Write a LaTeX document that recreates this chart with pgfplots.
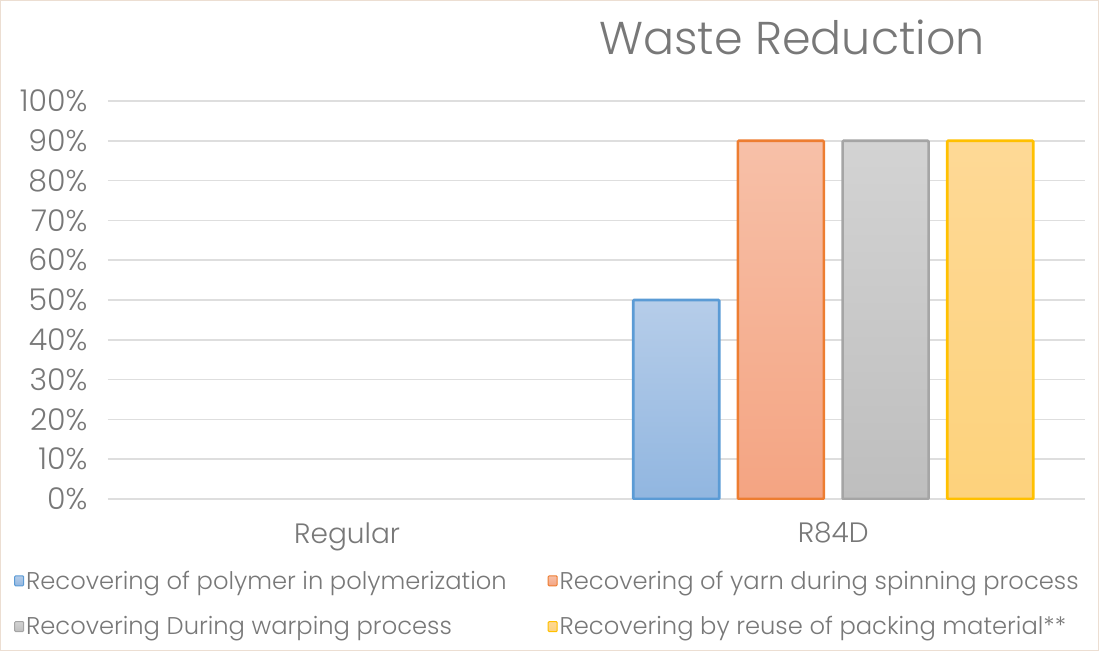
\documentclass[border=0pt]{standalone}
\usepackage{pgfplots}
\pgfplotsset{compat=1.18}
\usepackage{fontspec}
\setmainfont{Poppins}[UprightFont={* Light}]

\definecolor{txt}{RGB}{120,120,120}
\definecolor{gridc}{RGB}{222,222,222}
\definecolor{frame}{RGB}{236,222,210}
\definecolor{bluE}{RGB}{91,155,213}
\definecolor{oraN}{RGB}{237,125,49}
\definecolor{grY}{RGB}{165,165,165}
\definecolor{yelL}{RGB}{255,192,0}

\begin{document}
\begin{tikzpicture}[x=1pt,y=1pt]
  \path (0,0) rectangle (1099,651);
  \draw[frame, line width=1.2pt] (0.6,0.6) rectangle (1098.4,650.4);
  \node[txt, font=\fontsize{46}{52}\selectfont] at (792,614) {Waste Reduction};

  \begin{axis}[
      at={(108pt,152pt)}, anchor=south west,
      scale only axis,
      width=977pt, height=398pt,
      xmin=-0.492, xmax=1.518,
      ymin=0, ymax=100,
      xtick={0,1},
      xticklabels={Regular,R84D},
      ytick={0,10,...,100},
      yticklabel={\pgfmathprintnumber{\tick}\%},
      /pgf/number format/assume math mode=true,
      xmajorgrids=false,
      ymajorgrids=true,
      grid style={draw=gridc, line width=1.5pt},
      axis line style={draw=none},
      major tick length=0pt,
      tick label style={txt},
      yticklabel style={font=\fontsize{30}{32}\selectfont, xshift=-17pt},
      xticklabel style={font=\fontsize{28}{32}\selectfont, yshift=-20pt},
      bar width=0.177,
      ybar,
      legend columns=2,
      legend cell align=left,
      legend style={at={(axis description cs:-0.0962,-0.175)}, anchor=north west,
        draw=none, fill=none, inner sep=0pt,
        font=\fontsize{24.2}{28}\selectfont, text=txt,
        /tikz/every even column/.append style={column sep=39pt},
        row sep=22pt},
      legend image code/.code={\draw[#1, line width=1pt] (0pt,-5pt) rectangle (9pt,5pt);},
    ]
    \addplot[draw=bluE, line width=2.6pt, rounded corners=1pt, top color={rgb,255:red,182;green,205;blue,233}, bottom color={rgb,255:red,145;green,182;blue,224}, bar shift=-0.323]
      coordinates {(1,50)};
    \addplot[draw=oraN, line width=2.6pt, rounded corners=1pt, top color={rgb,255:red,247;green,192;blue,168}, bottom color={rgb,255:red,244;green,164;blue,130}, bar shift=-0.1077]
      coordinates {(1,90)};
    \addplot[draw=grY, line width=2.6pt, rounded corners=1pt, top color={rgb,255:red,211;green,211;blue,211}, bottom color={rgb,255:red,190;green,190;blue,190}, bar shift=0.1077]
      coordinates {(1,90)};
    \addplot[draw=yelL, line width=2.6pt, rounded corners=1pt, top color={rgb,255:red,254;green,217;blue,150}, bottom color={rgb,255:red,253;green,210;blue,124}, bar shift=0.323]
      coordinates {(1,90)};
    \legend{Recovering of polymer in polymerization,
            Recovering of yarn during spinning process,
            Recovering During warping process,
            Recovering by reuse of packing material**}
  \end{axis}
\end{tikzpicture}
\end{document}
